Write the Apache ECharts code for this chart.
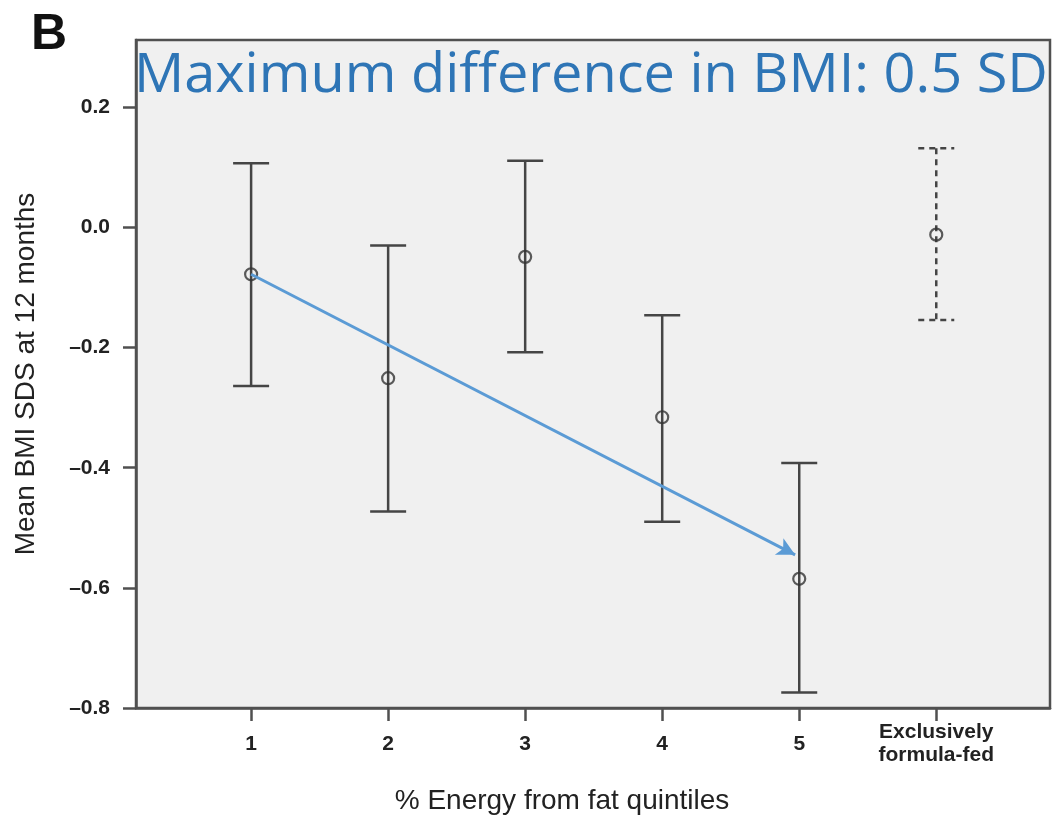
<!DOCTYPE html>
<html>
<head>
<meta charset="utf-8">
<script src="https://cdn.jsdelivr.net/npm/echarts@6/dist/echarts.min.js"></script>
<style>
  html, body { margin: 0; padding: 0; background: #ffffff; }
  #chart { width: 1053px; height: 819px; }
</style>
</head>
<body>
<div id="chart"></div>
<script>
// Quintile groups of % energy from fat, plus the exclusively formula-fed group
const groups = ['1', '2', '3', '4', '5', 'Exclusively\nformula-fed'];
const groupPos = [1, 2, 3, 4, 5, 6];
// Mean BMI SDS at 12 months with 95% CI
const meanBMI = [-0.078, -0.251, -0.049, -0.316, -0.585, -0.012];
const lowerCI = [-0.264, -0.473, -0.208, -0.490, -0.774, -0.154];
const upperCI = [0.107, -0.030, 0.111, -0.146, -0.392, 0.132];
const dashedBar = [0, 0, 0, 0, 0, 1];
// Trend arrow from quintile 1 towards quintile 5
const trendStart = [1, -0.078];
const trendEnd = [4.97, -0.545];
// Y-axis tick values
const yTicks = [-0.8, -0.6, -0.4, -0.2, 0.0, 0.2];

const barData = groupPos.map((x, i) => [x, lowerCI[i], upperCI[i], dashedBar[i]]);
const meanData = groupPos.map((x, i) => [x, meanBMI[i]]);

const ink = '#454545';
const labelFont = 'Liberation Sans, Arial, sans-serif';

const chart = echarts.init(document.getElementById('chart'), null, { renderer: 'canvas' });

chart.setOption({
  animation: false,
  backgroundColor: '#ffffff',
  grid: {
    left: 136, right: 3, top: 40, bottom: 111,
    outerBoundsMode: 'none',
    containLabel: false,
    show: true,
    backgroundColor: '#f0f0f0',
    borderColor: '#505050',
    borderWidth: 2.5
  },
  graphic: [
    {
      type: 'text', x: 31, y: 10, z: 10,
      style: { text: 'B', font: 'bold 50px Liberation Sans, Arial, sans-serif', fill: '#111111' }
    },
    {
      type: 'text', x: 134, y: 50, scaleX: 1.035, z: 10,
      style: { text: 'Maximum difference in BMI: 0.5 SD', font: '54px Open Sans, sans-serif', fill: '#2e75b6' }
    }
  ],
  xAxis: {
    type: 'value',
    min: 0.16, max: 6.83,
    name: '% Energy from fat quintiles',
    nameLocation: 'middle',
    nameGap: 79,
    nameTextStyle: { fontFamily: labelFont, fontSize: 28, color: '#222222', padding: [0, 62, 0, 0] },
    axisLine: { show: true, onZero: false, lineStyle: { color: '#505050', width: 2.5 } },
    axisTick: { show: true, length: 13, customValues: groupPos, lineStyle: { color: '#505050', width: 2.5 } },
    axisLabel: {
      customValues: groupPos,
      formatter: v => groups[Math.round(v) - 1] || '',
      fontFamily: labelFont, fontWeight: 'bold', fontSize: 21, color: '#222222',
      lineHeight: 23, verticalAlign: 'middle', margin: 36
    },
    splitLine: { show: false }
  },
  yAxis: {
    type: 'value',
    min: -0.8, max: 0.312,
    name: 'Mean BMI SDS at 12 months',
    nameLocation: 'middle',
    nameGap: 96,
    nameTextStyle: { fontFamily: labelFont, fontSize: 28, color: '#222222' },
    axisLine: { show: true, onZero: false, lineStyle: { color: '#505050', width: 2.5 } },
    axisTick: { show: true, length: 13, customValues: yTicks, lineStyle: { color: '#505050', width: 2.5 } },
    axisLabel: {
      customValues: yTicks,
      formatter: v => (v < 0 ? '\u2013' : '') + Math.abs(v).toFixed(1),
      fontFamily: labelFont, fontWeight: 'bold', fontSize: 21, color: '#222222',
      margin: 26
    },
    splitLine: { show: false }
  },
  series: [
    {
      type: 'custom',
      name: '95% CI',
      data: barData,
      z: 3,
      renderItem: (params, api) => {
        const x = api.value(0);
        const top = api.coord([x, api.value(2)]);
        const bot = api.coord([x, api.value(1)]);
        const half = 18;
        const dashed = api.value(3) === 1;
        const style = { stroke: ink, lineWidth: 2.5, lineDash: dashed ? [6, 5] : null };
        return {
          type: 'group',
          children: [
            { type: 'line', shape: { x1: top[0], y1: top[1], x2: bot[0], y2: bot[1] }, style },
            { type: 'line', shape: { x1: top[0] - half, y1: top[1], x2: top[0] + half, y2: top[1] }, style },
            { type: 'line', shape: { x1: bot[0] - half, y1: bot[1], x2: bot[0] + half, y2: bot[1] }, style }
          ]
        };
      }
    },
    {
      type: 'scatter',
      name: 'Mean',
      data: meanData,
      z: 4,
      symbol: 'circle',
      symbolSize: 12,
      itemStyle: { color: 'rgba(0,0,0,0)', borderColor: '#333333', borderWidth: 2.2 },
      markLine: {
        silent: true,
        symbol: ['none', 'arrow'],
        symbolSize: [14, 18],
        label: { show: false },
        lineStyle: { color: '#5b9bd5', width: 3, type: 'solid' },
        data: [[{ coord: trendStart }, { coord: trendEnd }]]
      }
    }
  ]
});
</script>
</body>
</html>
